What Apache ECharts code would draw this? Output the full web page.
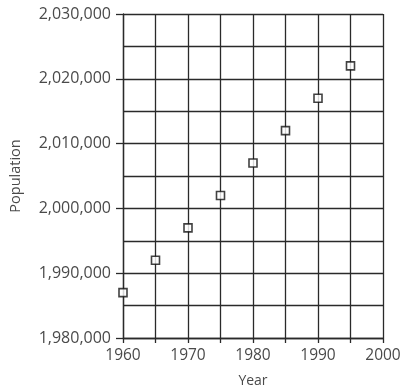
<!DOCTYPE html>
<html><head><meta charset="utf-8">
<script src="https://cdn.jsdelivr.net/npm/echarts@6/dist/echarts.min.js"></script>
<style>html,body{margin:0;padding:0;background:#fff}#c{width:404px;height:390px}</style>
</head><body><div id="c"></div>
<script>
const years = [1960, 1965, 1970, 1975, 1980, 1985, 1990, 1995];
const population = [1987000, 1992000, 1997000, 2002000, 2007000, 2012000, 2017000, 2022000];
const xTickLabels = [1960, 1970, 1980, 1990, 2000];

const chart = echarts.init(document.getElementById('c'));
const lineCol = '#2a2a2a';
const txtCol = '#4a4a4a';
chart.setOption({
  animation: false,
  grid: {left: 123, right: 21, top: 14, bottom: 52, containLabel: false, outerBoundsMode: 'none'},
  xAxis: {
    type: 'value', min: 1960, max: 2000, interval: 5,
    name: 'Year', nameLocation: 'middle', nameGap: 36,
    nameTextStyle: {fontFamily: 'Open Sans', fontSize: 14, color: txtCol},
    axisLine: {show: true, lineStyle: {color: lineCol, width: 1.3}},
    axisTick: {show: true, length: 5, lineStyle: {color: lineCol, width: 1.3}},
    axisLabel: {fontFamily: 'Open Sans', fontSize: 15.5, color: txtCol, margin: 10,
      formatter: v => xTickLabels.indexOf(v) >= 0 ? String(v) : ''},
    splitLine: {show: true, lineStyle: {color: lineCol, width: 1.3}}
  },
  yAxis: {
    type: 'value', min: 1980000, max: 2030000, interval: 10000,
    name: 'Population', nameLocation: 'middle', nameGap: 100, nameRotate: 90,
    nameTextStyle: {fontFamily: 'Open Sans', fontSize: 14.5, color: txtCol},
    axisLine: {show: true, lineStyle: {color: lineCol, width: 1.3}},
    axisTick: {show: true, length: 7, lineStyle: {color: lineCol, width: 1.3}},
    minorTick: {show: false, splitNumber: 2},
    minorSplitLine: {show: true, lineStyle: {color: lineCol, width: 1.3}},
    axisLabel: {fontFamily: 'Open Sans', fontSize: 16, color: txtCol, margin: 12,
      formatter: v => v.toLocaleString('en-US')},
    splitLine: {show: true, lineStyle: {color: lineCol, width: 1.3}}
  },
  series: [{
    type: 'scatter',
    data: years.map((y, i) => [y, population[i]]),
    symbol: 'rect', symbolSize: 8,
    itemStyle: {color: '#fff', borderColor: '#111', borderWidth: 1.6}
  }]
});
</script></body></html>
